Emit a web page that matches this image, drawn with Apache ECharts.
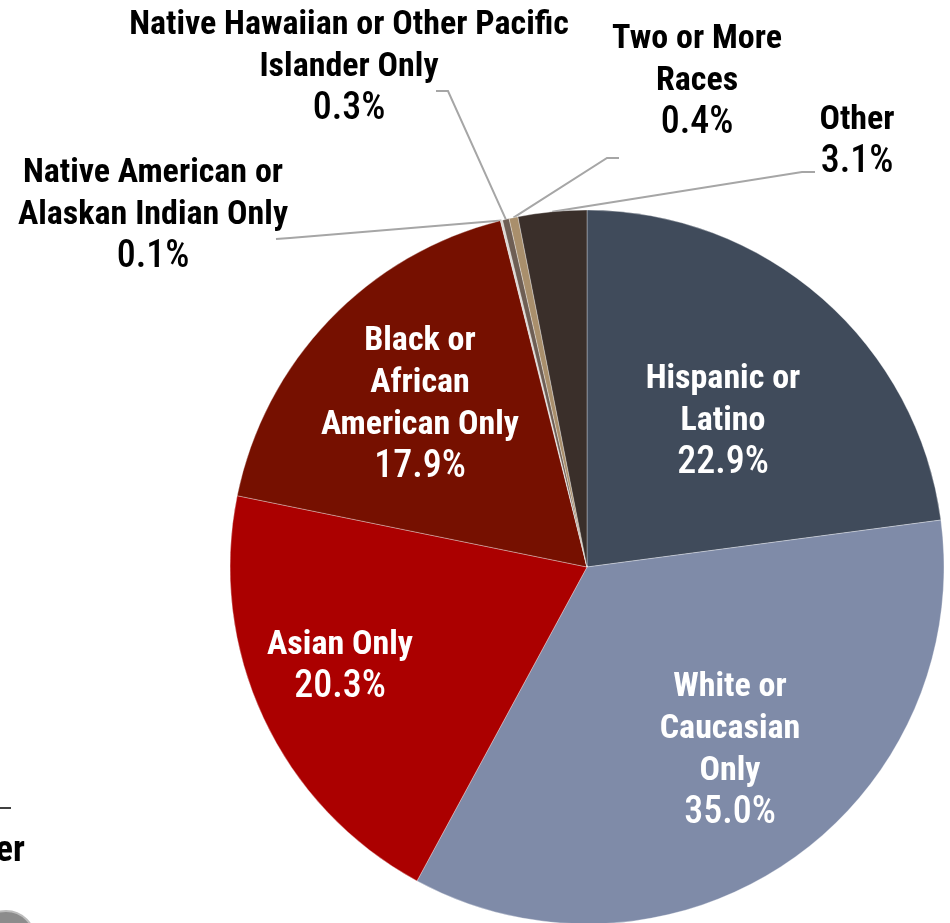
<!DOCTYPE html>
<html>
<head>
<meta charset="utf-8">
<script src="https://cdn.jsdelivr.net/npm/echarts@6/dist/echarts.min.js"></script>
<style>
  html, body { margin: 0; padding: 0; background: #ffffff; }
  #chart { width: 950px; height: 923px; }
</style>
</head>
<body>
<div id="chart"></div>
<script>
// Population share by race / ethnicity (percent)
const categories = [
  'Hispanic or\nLatino',
  'White or\nCaucasian\nOnly',
  'Asian Only',
  'Black or\nAfrican\nAmerican Only',
  'Native American or\nAlaskan Indian Only',
  'Native Hawaiian or Other Pacific\nIslander Only',
  'Two or More\nRaces',
  'Other'
];
const shares = [22.9, 35.0, 20.3, 17.9, 0.1, 0.3, 0.4, 3.1];

const sliceColors = ['#404b5b', '#7f8ba8', '#ab0000', '#761000', '#d8d3ce', '#6e5e54', '#a98f6c', '#3a2f2a'];
const labelInside = [true, true, true, true, false, false, false, false];

// Where each label block is centred, plus the elbow points of the leader lines
const labelSpots = [
  { x: 723, y: 421 },
  { x: 730, y: 750 },
  { x: 340, y: 666 },
  { x: 420, y: 404 },
  { x: 153, y: 215, elbow: [[290, 238], [276, 239]] },
  { x: 349, y: 67,  elbow: [[448, 91], [436, 91]] },
  { x: 697, y: 81,  elbow: [[607, 158], [619, 158]] },
  { x: 857, y: 141, elbow: [[802, 172], [815, 172]] }
];

const PIE_CX = 587, PIE_CY = 567, PIE_R = 357;
const FONT = "'Roboto Condensed', Roboto, sans-serif";

const pieData = categories.map((name, i) => ({
  name: name,
  value: shares[i],
  itemStyle: { color: sliceColors[i] },
  label: labelInside[i]
    ? { position: 'inside', color: '#ffffff' }
    : { position: 'outside', color: '#000000' },
  labelLine: { show: !labelInside[i] }
}));

// Outer-edge point at the middle angle of a slice (fallback for leader-line start)
function sliceEdge(idx) {
  const total = shares.reduce((a, b) => a + b, 0);
  let before = 0;
  for (let i = 0; i < idx; i++) before += shares[i];
  const mid = (before + shares[idx] / 2) / total * Math.PI * 2;
  return [PIE_CX + PIE_R * Math.sin(mid), PIE_CY - PIE_R * Math.cos(mid)];
}

const chart = echarts.init(document.getElementById('chart'));
chart.setOption({
  animation: false,
  backgroundColor: '#ffffff',
  series: [{
    type: 'pie',
    center: [PIE_CX, PIE_CY],
    radius: PIE_R,
    startAngle: 90,
    clockwise: true,
    avoidLabelOverlap: false,
    minShowLabelAngle: 0,
    data: pieData,
    itemStyle: { borderColor: 'rgba(255,255,255,0.55)', borderWidth: 0.6 },
    emphasis: { disabled: true },
    label: {
      show: true,
      formatter: p => p.name.split('\n').map(line => '{t|' + line + '}').join('\n')
        + '\n{p|' + p.value.toFixed(1) + '%}',
      fontFamily: FONT,
      fontWeight: 'bold',
      fontSize: 34,
      lineHeight: 42,
      align: 'center',
      rich: {
        t: { fontFamily: FONT, fontWeight: 'bold', fontSize: 34, lineHeight: 42 },
        p: { fontFamily: FONT, fontWeight: 500, fontSize: 38, lineHeight: 42 }
      }
    },
    labelLine: {
      show: true,
      length: 20,
      length2: 12,
      lineStyle: { color: '#a6a6a6', width: 2 }
    },
    labelLayout: function (params) {
      const spot = labelSpots[params.dataIndex];
      const out = { x: spot.x, y: spot.y, align: 'center', verticalAlign: 'middle' };
      if (spot.elbow) {
        const start = (params.labelLinePoints && params.labelLinePoints[0]) || sliceEdge(params.dataIndex);
        out.labelLinePoints = [start, spot.elbow[0], spot.elbow[1]];
      }
      return out;
    }
  }],
  graphic: [
    { type: 'line', shape: { x1: 0, y1: 808, x2: 11, y2: 808 }, style: { stroke: '#000', lineWidth: 1.5 } },
    { type: 'text', x: 25, y: 870, style: { text: 'er', fill: '#000', font: "bold 36px 'Roboto Condensed', Roboto, sans-serif", textAlign: 'right', textVerticalAlign: 'bottom' } },
    { type: 'circle', shape: { cx: 6, cy: 940, r: 29 }, style: { fill: '#8c8c8c', stroke: '#bdbdbd', lineWidth: 2 } }
  ]
});
</script>
</body>
</html>
